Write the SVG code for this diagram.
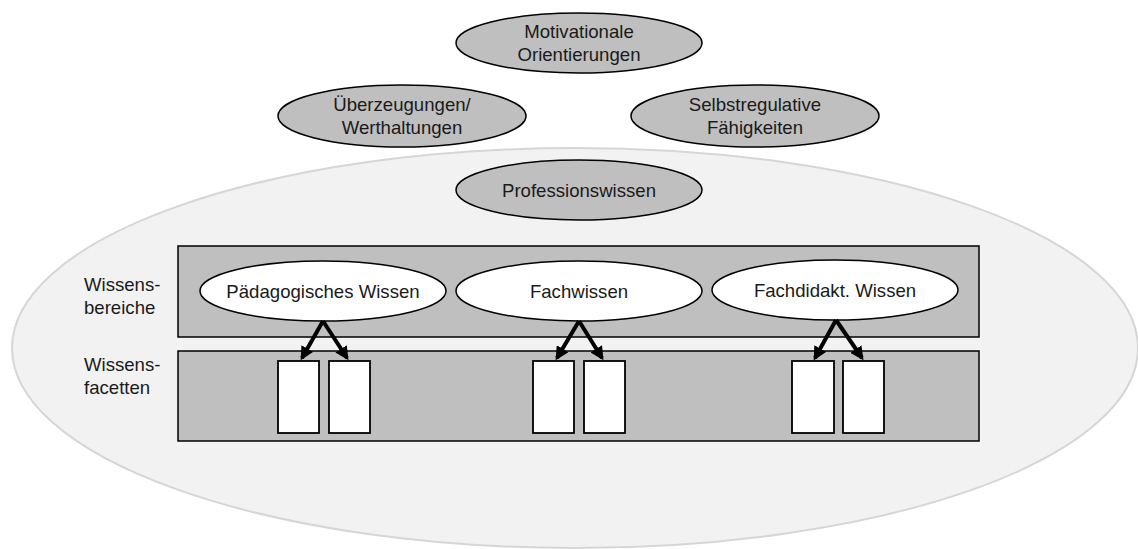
<svg xmlns="http://www.w3.org/2000/svg" width="1138" height="549" viewBox="0 0 1138 549">
  <style>
    text { font-family: "Liberation Sans", Arial, sans-serif; font-size: 18.6px; fill: #1a1a1a; }
    .c { text-anchor: middle; }
    .grey { fill: #bfbfbf; stroke: #000; stroke-width: 1.5; }
    .white { fill: #fff; stroke: #000; stroke-width: 1.5; }
    .band { fill: #bfbfbf; stroke: #000; stroke-width: 1.5; }
    .facet { fill: #fff; stroke: #000; stroke-width: 1.8; }
    .arrow { stroke: #000; stroke-width: 4; fill: none; marker-end: url(#head); }
  </style>
  <defs>
    <marker id="head" viewBox="0 0 10 10" refX="8" refY="5" markerWidth="3.4" markerHeight="3.4" orient="auto" markerUnits="strokeWidth">
      <path d="M0,0 L10,5 L0,10 z" fill="#000"/>
    </marker>
  </defs>

  <rect width="1138" height="549" fill="#fff"/>

  <!-- outer professional competence area -->
  <ellipse cx="575" cy="348" rx="563" ry="200" fill="#f2f2f2" stroke="#d6d6d6" stroke-width="2"/>

  <g id="motivation">
    <ellipse class="grey" cx="579" cy="43" rx="123" ry="30"/>
    <text class="c" x="579" y="38">Motivationale</text>
    <text class="c" x="579" y="61">Orientierungen</text>
  </g>
  <g id="beliefs">
    <ellipse class="grey" cx="402" cy="116" rx="124" ry="31"/>
    <text class="c" x="402" y="111">Überzeugungen/</text>
    <text class="c" x="402" y="134">Werthaltungen</text>
  </g>
  <g id="selfregulation">
    <ellipse class="grey" cx="755" cy="116" rx="124" ry="31"/>
    <text class="c" x="755" y="111">Selbstregulative</text>
    <text class="c" x="755" y="134">Fähigkeiten</text>
  </g>
  <g id="professional-knowledge">
    <ellipse class="grey" cx="579" cy="190" rx="123" ry="30"/>
    <text class="c" x="579" y="197">Professionswissen</text>
  </g>

  <g id="domains-band">
    <rect class="band" x="178" y="246" width="801" height="91"/>
    <text x="84" y="291">Wissens-</text>
    <text x="84" y="314">bereiche</text>
  </g>
  <g id="facets-band">
    <rect class="band" x="178" y="351" width="801" height="90"/>
    <text x="84" y="371">Wissens-</text>
    <text x="84" y="394">facetten</text>
  </g>

  <g id="paedagogik">
    <ellipse class="white" cx="323" cy="291" rx="123" ry="30"/>
    <text class="c" x="323" y="298">Pädagogisches Wissen</text>
  </g>
  <g id="fachwissen">
    <ellipse class="white" cx="579" cy="291" rx="123" ry="30"/>
    <text class="c" x="579" y="298">Fachwissen</text>
  </g>
  <g id="fachdidaktik">
    <ellipse class="white" cx="835" cy="290" rx="123" ry="30"/>
    <text class="c" x="835" y="297">Fachdidakt. Wissen</text>
  </g>

  <g id="facets">
    <rect class="facet" x="278" y="361" width="41" height="72"/>
    <rect class="facet" x="329" y="361" width="41" height="72"/>
    <rect class="facet" x="533" y="361" width="41" height="72"/>
    <rect class="facet" x="584" y="361" width="41" height="72"/>
    <rect class="facet" x="792" y="361" width="42" height="72"/>
    <rect class="facet" x="843" y="361" width="41" height="72"/>
  </g>

  <g id="connectors">
    <line class="arrow" x1="323" y1="321" x2="302" y2="358"/>
    <line class="arrow" x1="323" y1="321" x2="347" y2="358"/>
    <line class="arrow" x1="579" y1="321" x2="557" y2="358"/>
    <line class="arrow" x1="579" y1="321" x2="602" y2="358"/>
    <line class="arrow" x1="836" y1="320" x2="815" y2="358"/>
    <line class="arrow" x1="836" y1="320" x2="862" y2="358"/>
  </g>
</svg>
